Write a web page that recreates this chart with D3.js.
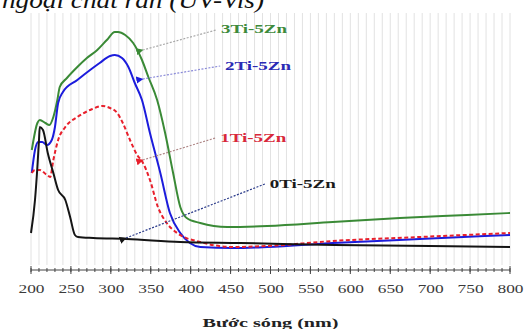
<!DOCTYPE html>
<html>
<head>
<meta charset="utf-8">
<script src="https://cdn.jsdelivr.net/npm/d3@7"></script>
<style>
  html, body { margin: 0; padding: 0; background: #fff; }
  svg { display: block; }
</style>
</head>
<body>
<svg id="chart" width="526" height="329"></svg>
<script>
// UV-Vis absorption spectra of the xTi-5Zn samples (absorbance, a.u.)
const wl0 = [200, 205, 208, 210, 211, 215, 221, 228, 234, 243, 249, 255, 259, 278, 320, 387, 462, 580, 700, 800];
const abs0 = [0.148, 0.28, 0.412, 0.52, 0.572, 0.56, 0.468, 0.388, 0.32, 0.28, 0.212, 0.14, 0.132, 0.128, 0.124, 0.112, 0.108, 0.10, 0.096, 0.092];

const wl1 = [201, 205, 211, 220, 224, 228, 234, 243, 258, 274, 290, 299, 308, 315, 324, 333, 340, 349, 359, 370, 383, 412, 453, 496, 578, 687, 800];
const abs1 = [0.388, 0.40, 0.40, 0.38, 0.372, 0.44, 0.52, 0.572, 0.612, 0.64, 0.656, 0.648, 0.628, 0.588, 0.52, 0.46, 0.43, 0.36, 0.252, 0.188, 0.148, 0.112, 0.092, 0.096, 0.116, 0.132, 0.148];

const wl2 = [201, 205, 209, 214, 220, 226, 230, 234, 240, 258, 274, 286, 299, 305, 314, 322, 330, 339, 349, 362, 374, 387, 399, 412, 453, 496, 578, 687, 800];
const abs2 = [0.388, 0.48, 0.512, 0.512, 0.50, 0.52, 0.572, 0.668, 0.712, 0.76, 0.80, 0.828, 0.856, 0.86, 0.848, 0.812, 0.748, 0.68, 0.548, 0.388, 0.228, 0.148, 0.108, 0.092, 0.088, 0.092, 0.108, 0.124, 0.14];

const wl3 = [201, 208, 211, 218, 223, 228, 233, 236, 245, 258, 270, 283, 295, 305, 309, 318, 328, 339, 347, 358, 368, 378, 387, 395, 412, 446, 496, 578, 662, 746, 800];
const abs3 = [0.48, 0.588, 0.60, 0.588, 0.58, 0.612, 0.68, 0.732, 0.768, 0.812, 0.848, 0.88, 0.92, 0.952, 0.952, 0.94, 0.908, 0.84, 0.772, 0.68, 0.548, 0.388, 0.252, 0.208, 0.188, 0.172, 0.176, 0.192, 0.208, 0.22, 0.228];

const seriesNames = ["0Ti-5Zn", "1Ti-5Zn", "2Ti-5Zn", "3Ti-5Zn"];
const seriesColors = ["#141414", "#e8202c", "#1c1cdc", "#3a8a36"];
const labelColors = ["#1a1a1a", "#d8283a", "#2a2ab4", "#3d8a3a"];
const leaderColors = ["#2a3a8a", "#b08888", "#8a8ad8", "#a8a8a8"];

// where each leader line touches its curve, and where its label sits
const anchorWl = [319, 340, 340, 340];
const anchorAbs = [0.128, 0.44, 0.764, 0.88];
const leaderEndWl = [493, 431, 437, 432];
const leaderEndAbs = [0.344, 0.528, 0.816, 0.96];
const labelWl = [499, 437, 443, 438];
const labelAbs = [0.328, 0.512, 0.80, 0.948];

const majorTicks = [200, 250, 300, 350, 400, 450, 500, 550, 600, 650, 700, 750, 800];
const minorTicks = d3.range(200, 801, 10);
const xTitle = "Bước sóng (nm)";
const headText = "ngoại chất rắn (UV-Vis)";

const serif = "'Liberation Serif', 'DejaVu Serif', serif";
const svg = d3.select("#chart");
const x = d3.scaleLinear().domain([200, 800]).range([31, 510]);
const y = d3.scaleLinear().domain([0, 1]).range([270, 20]);

// light vertical grid every 10 nm
svg.append("g")
  .selectAll("line")
  .data(minorTicks)
  .join("line")
  .attr("x1", d => x(d)).attr("x2", d => x(d))
  .attr("y1", 13).attr("y2", 265)
  .attr("stroke", "#e2e2e2")
  .attr("stroke-width", 1);

// caption line running off the top edge
svg.append("text")
  .attr("x", 2).attr("y", 8)
  .attr("textLength", 262)
  .attr("lengthAdjust", "spacingAndGlyphs")
  .attr("font-family", serif)
  .attr("font-style", "italic")
  .attr("font-size", 24)
  .attr("fill", "#111")
  .text(headText);

// x axis with crossing major / minor ticks
const axisY = 270;
const axisG = svg.append("g").attr("transform", `translate(0,${axisY})`);
axisG.append("line")
  .attr("x1", x(200)).attr("x2", x(800))
  .attr("stroke", "#444").attr("stroke-width", 1);
axisG.selectAll("line.minor")
  .data(minorTicks)
  .join("line").attr("class", "minor")
  .attr("x1", d => x(d)).attr("x2", d => x(d))
  .attr("y1", -2).attr("y2", 2)
  .attr("stroke", "#444");
axisG.selectAll("line.major")
  .data(majorTicks)
  .join("line").attr("class", "major")
  .attr("x1", d => x(d)).attr("x2", d => x(d))
  .attr("y1", -4).attr("y2", 4)
  .attr("stroke", "#444");

const bottom = d3.axisBottom(x).tickValues(majorTicks).tickSize(0).tickPadding(0);
const tickG = svg.append("g")
  .attr("transform", "translate(0,293)")
  .call(bottom)
  .attr("font-family", serif)
  .attr("font-size", 13);
tickG.select(".domain").remove();
tickG.selectAll("text")
  .attr("dy", 0)
  .attr("fill", "#3a3a3a")
  .attr("textLength", 26)
  .attr("lengthAdjust", "spacingAndGlyphs");

svg.append("text")
  .attr("x", (x(200) + x(800)) / 2).attr("y", 327)
  .attr("text-anchor", "middle")
  .attr("textLength", 136)
  .attr("lengthAdjust", "spacingAndGlyphs")
  .attr("font-family", serif)
  .attr("font-weight", "bold")
  .attr("font-size", 13)
  .attr("fill", "#222")
  .text(xTitle);

// spectra
const line = d3.line()
  .x(d => x(d[0]))
  .y(d => y(d[1]))
  .curve(d3.curveMonotoneX);

const spectra = [
  d3.zip(wl0, abs0),
  d3.zip(wl1, abs1),
  d3.zip(wl2, abs2),
  d3.zip(wl3, abs3)
];
const drawOrder = [3, 2, 1, 0];
drawOrder.forEach(i => {
  svg.append("path")
    .datum(spectra[i])
    .attr("d", line)
    .attr("fill", "none")
    .attr("stroke", seriesColors[i])
    .attr("stroke-width", 2)
    .attr("stroke-linejoin", "round")
    .attr("stroke-dasharray", i === 1 ? "4,2.5" : null);
});

// leader lines with arrowheads and labels
const defs = svg.append("defs");
seriesNames.forEach((name, i) => {
  defs.append("marker")
    .attr("id", "arr" + i)
    .attr("viewBox", "0 0 10 10")
    .attr("refX", 1).attr("refY", 5)
    .attr("markerWidth", 6).attr("markerHeight", 6)
    .attr("orient", "auto-start-reverse")
    .append("path")
    .attr("d", "M0,5 L10,0 L10,10 Z")
    .attr("fill", seriesColors[i]);

  svg.append("line")
    .attr("x1", x(anchorWl[i])).attr("y1", y(anchorAbs[i]))
    .attr("x2", x(leaderEndWl[i])).attr("y2", y(leaderEndAbs[i]))
    .attr("stroke", leaderColors[i])
    .attr("stroke-width", 1.2)
    .attr("stroke-dasharray", "2,1.5")
    .attr("marker-start", `url(#arr${i})`);

  svg.append("text")
    .attr("x", x(labelWl[i])).attr("y", y(labelAbs[i]))
    .attr("textLength", 66)
    .attr("lengthAdjust", "spacingAndGlyphs")
    .attr("font-family", serif)
    .attr("font-weight", "bold")
    .attr("font-size", 13)
    .attr("fill", labelColors[i])
    .text(name);
});
</script>
</body>
</html>
